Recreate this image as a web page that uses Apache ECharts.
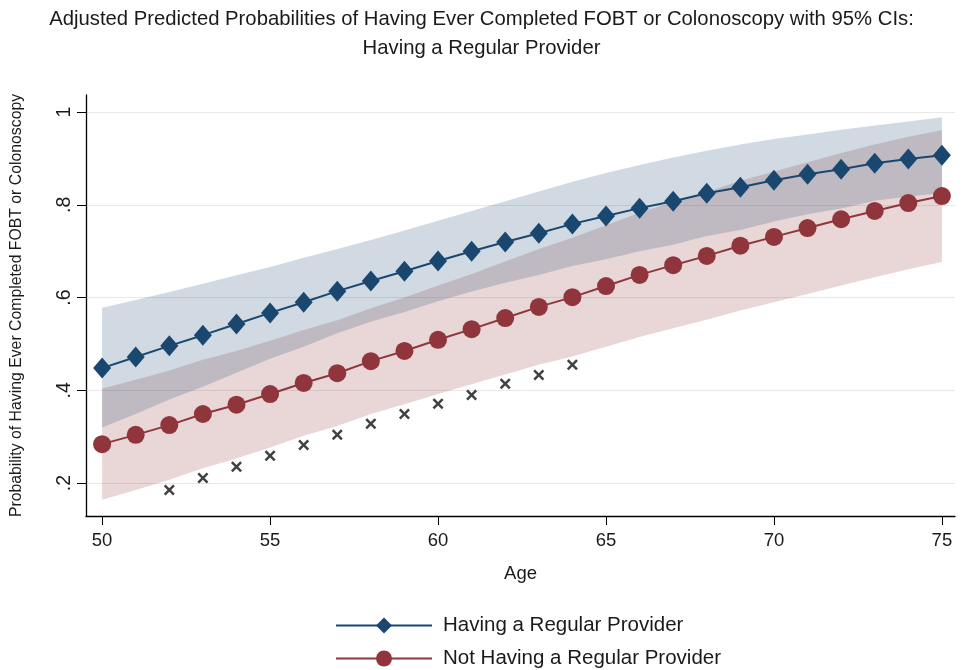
<!DOCTYPE html>
<html>
<head>
<meta charset="utf-8">
<script src="https://cdn.jsdelivr.net/npm/echarts@6/dist/echarts.min.js"></script>
<style>
html,body{margin:0;padding:0;background:#fff;}
#chart{width:963px;height:670px;}
</style>
</head>
<body>
<div id="chart"></div>
<script>
const ages = [50,51,52,53,54,55,56,57,58,59,60,61,62,63,64,65,66,67,68,69,70,71,72,73,74,75];
const regularMean = [.448,.472,.496,.519,.543,.567,.590,.614,.636,.657,.679,.700,.720,.739,.759,.776,.793,.808,.825,.838,.853,.866,.877,.890,.899,.907];
const regularLower = [.320,.349,.380,.408,.438,.468,.494,.523,.548,.569,.592,.613,.632,.649,.668,.683,.700,.714,.733,.746,.764,.780,.792,.809,.818,.825];
const regularUpper = [.578,.595,.612,.630,.648,.666,.686,.705,.724,.745,.766,.787,.808,.829,.850,.869,.886,.902,.917,.930,.942,.952,.962,.971,.980,.989];
const noRegularMean = [.284,.304,.325,.349,.369,.392,.416,.437,.463,.485,.509,.532,.556,.580,.601,.625,.649,.670,.690,.712,.731,.750,.769,.787,.804,.819];
const noRegularLower = [.164,.185,.207,.232,.253,.277,.302,.323,.349,.370,.392,.413,.434,.455,.473,.494,.515,.534,.552,.572,.590,.608,.626,.644,.661,.677];
const noRegularUpper = [.404,.423,.443,.466,.485,.507,.530,.551,.577,.600,.626,.651,.678,.705,.729,.756,.783,.806,.828,.852,.872,.892,.912,.930,.947,.961];
const crossAges = [52,53,54,55,56,57,58,59,60,61,62,63,64];
const crossValues = [.185,.211,.235,.259,.282,.304,.328,.349,.371,.390,.414,.433,.455];
const xTicks = [50,55,60,65,70,75];
const yTicks = [0.2,0.4,0.6,0.8,1];

const FONT = 'Liberation Sans, Arial, Helvetica, sans-serif';
const BLUE = '#1a476f';
const RED = '#90353b';

function bandSeries(name, lower, upper, color) {
  const data = ages.map((a, i) => [a, lower[i], upper[i]]);
  return {
    name: name, type: 'custom', silent: true, z: 1,
    data: data,
    encode: {x: 0, y: [1, 2]},
    renderItem: function (params, api) {
      if (params.dataIndex !== 0) return null;
      const pts = [];
      data.forEach(d => pts.push(api.coord([d[0], d[2]])));
      for (let i = data.length - 1; i >= 0; i--) pts.push(api.coord([data[i][0], data[i][1]]));
      return {type: 'polygon', shape: {points: pts}, style: {fill: color, opacity: 0.2}};
    }
  };
}

const chart = echarts.init(document.getElementById('chart'));
chart.setOption({
  animation: false,
  backgroundColor: '#fff',
  textStyle: {fontFamily: FONT},
  title: {
    text: 'Adjusted Predicted Probabilities of Having Ever Completed FOBT or Colonoscopy with 95% CIs:\nHaving a Regular Provider',
    left: 'center', top: 0,
    textStyle: {fontFamily: FONT, fontSize: 20.3, fontWeight: 'normal', color: '#1a1a1a', lineHeight: 29}
  },
  grid: {left: 86, right: 8, top: 95, bottom: 154},
  legend: {
    orient: 'vertical', left: 335, top: 615, height: 55, padding: 0,
    itemWidth: 96, itemHeight: 20, itemGap: 12,
    data: ['Having a Regular Provider', 'Not Having a Regular Provider'],
    textStyle: {fontFamily: FONT, fontSize: 20.5, color: '#1a1a1a', padding: [0, 0, 0, 6]}
  },
  xAxis: {
    type: 'value', min: 49.52, max: 75.39,
    name: 'Age', nameLocation: 'middle', nameGap: 48,
    nameTextStyle: {fontFamily: FONT, fontSize: 18.5, color: '#1a1a1a'},
    axisLine: {show: true, lineStyle: {color: '#000', width: 1.3}},
    axisTick: {show: true, length: 9, lineStyle: {color: '#000', width: 1}, customValues: xTicks},
    axisLabel: {customValues: xTicks, fontSize: 18.5, color: '#1a1a1a', margin: 15, fontFamily: FONT},
    splitLine: {show: false}
  },
  yAxis: {
    type: 'value', min: 0.129, max: 1.037,
    name: 'Probability of Having Ever Completed FOBT or Colonoscopy', nameLocation: 'middle', nameGap: 61,
    nameTextStyle: {fontFamily: FONT, fontSize: 15.8, color: '#1a1a1a'},
    axisLine: {show: true, lineStyle: {color: '#000', width: 1.3}},
    axisTick: {show: true, length: 9, lineStyle: {color: '#000', width: 1}, customValues: yTicks},
    axisLabel: {
      customValues: yTicks, rotate: 90, fontSize: 19.5, color: '#1a1a1a', margin: 11, fontFamily: FONT,
      formatter: v => (v === 1 ? '1' : String(Math.round(v * 10) / 10).replace('0.', '.'))
    },
    splitLine: {show: true, lineStyle: {color: '#e8e8e8', width: 1}}
  },
  series: [
    bandSeries('band-noreg', noRegularLower, noRegularUpper, RED),
    bandSeries('band-reg', regularLower, regularUpper, BLUE),
    {
      name: 'Having a Regular Provider', type: 'line', z: 5,
      data: ages.map((a, i) => [a, regularMean[i]]),
      symbol: 'diamond', symbolSize: [18, 21],
      lineStyle: {color: BLUE, width: 2},
      itemStyle: {color: BLUE}
    },
    {
      name: 'Not Having a Regular Provider', type: 'line', z: 5,
      data: ages.map((a, i) => [a, noRegularMean[i]]),
      symbol: 'circle', symbolSize: 18,
      lineStyle: {color: RED, width: 2},
      itemStyle: {color: RED}
    },
    {
      name: 'cross', type: 'scatter', z: 4,
      data: crossAges.map((a, i) => [a, crossValues[i]]),
      symbol: 'path://M0,1.6 L1.6,0 L5,3.4 L8.4,0 L10,1.6 L6.6,5 L10,8.4 L8.4,10 L5,6.6 L1.6,10 L0,8.4 L3.4,5 Z',
      symbolSize: 11,
      itemStyle: {color: '#111'}
    }
  ]
});
</script>
</body>
</html>
